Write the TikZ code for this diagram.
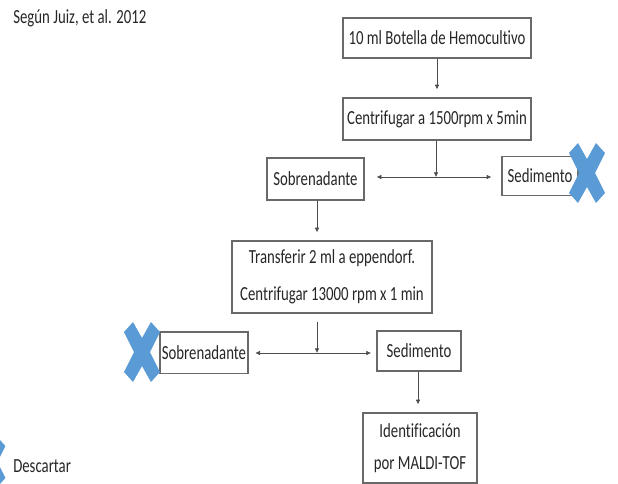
\documentclass[tikz,border=0pt]{standalone}
\usepackage{fontspec}
\setmainfont{Carlito}[FakeStretch=0.74,Ligatures=NoCommon]
\usetikzlibrary{calc}
\usetikzlibrary{positioning}
\usetikzlibrary{arrows.meta}
\definecolor{discardblue}{RGB}{91,155,213}
\definecolor{boxgray}{RGB}{105,105,105}
\tikzset{
stepbox/.style={rectangle,draw=boxgray,line width=1pt,align=center,inner sep=1pt,text=black!85,font=\fontsize{15}{24}\selectfont},
plain/.style={text=black!85,font=\fontsize{15}{24}\selectfont,inner sep=0pt},
link/.style={draw=black!70,line width=0.5pt},
flow/.style={link,-{Latex[length=3.5pt,width=3.5pt]}},
discard/.pic={
  \fill[discardblue] (0,-14) -- (9,-30) -- (18,-20) -- (8,0) -- (18,20) -- (9,30)
    -- (0,14) -- (-9,30) -- (-18,20) -- (-8,0) -- (-18,-20) -- (-9,-30) -- cycle;
}
}

\begin{document}
\begin{tikzpicture}[x=0.75pt,y=-0.75pt]
    \clip (0,0) rectangle (618,483);
    %
    \node[plain, anchor=west](source) at (13,18) {Según Juiz, et al. 2012};
    \node[stepbox, minimum width=141pt, minimum height=30pt](bottle) at (437,38) {10 ml Botella de Hemocultivo};
    \node[stepbox, minimum width=141pt, minimum height=31.5pt](spin1) at (437,119) {Centrifugar a 1500rpm x 5min};
    \node[stepbox, minimum width=72.75pt, minimum height=31.5pt](super1) at (315.5,179) {Sobrenadante};
    \node[stepbox, minimum width=57pt, minimum height=29pt](pellet1) at (540,176) {Sedimento};
    \node[stepbox, minimum width=150pt, minimum height=54pt](spin2) at (332,277) {Transferir 2 ml a eppendorf.\\[3.5pt]Centrifugar 13000 rpm x 1 min};
    \node[stepbox, minimum width=66pt, minimum height=31pt](super2) at (204,352.5) {Sobrenadante};
    \node[stepbox, minimum width=63pt, minimum height=30pt](pellet2) at (419,351) {Sedimento};
    \node[stepbox, minimum width=85.5pt, minimum height=52.5pt](maldi) at (420,448) {Identificación\\por MALDI-TOF};
    \node[plain, anchor=west](legend) at (13,466) {Descartar};
    %
    \coordinate (split1) at (436,177);
    \coordinate (split2) at (317,353);
    %
    \draw[flow, shorten >=6pt] (bottle) -- (spin1);
    \draw[flow] (spin1.south -| split1) -- (split1);
    \draw[flow, shorten >=9pt] (split1) -- (split1 -| super1.east);
    \draw[flow, shorten >=7.5pt] (split1) -- (split1 -| pellet1.west);
    \draw[flow, shorten >=6pt] (super1.south -| split2) -- (split2 |- spin2.north);
    \draw[flow, shorten <=6pt] (spin2.south -| split2) -- (split2);
    \draw[flow, shorten >=5pt] (split2) -- (split2 -| super2.east);
    \draw[flow, shorten >=4pt] (split2) -- (split2 -| pellet2.west);
    \draw[flow, shorten >=6pt] (pellet2.south -| 418,0) -- (maldi.north -| 418,0);
    %
    \pic at (587,173) {discard};
    \pic at (142,352) {discard};
    \pic[scale=0.8] at (-9,462) {discard};
\end{tikzpicture}
\end{document}
